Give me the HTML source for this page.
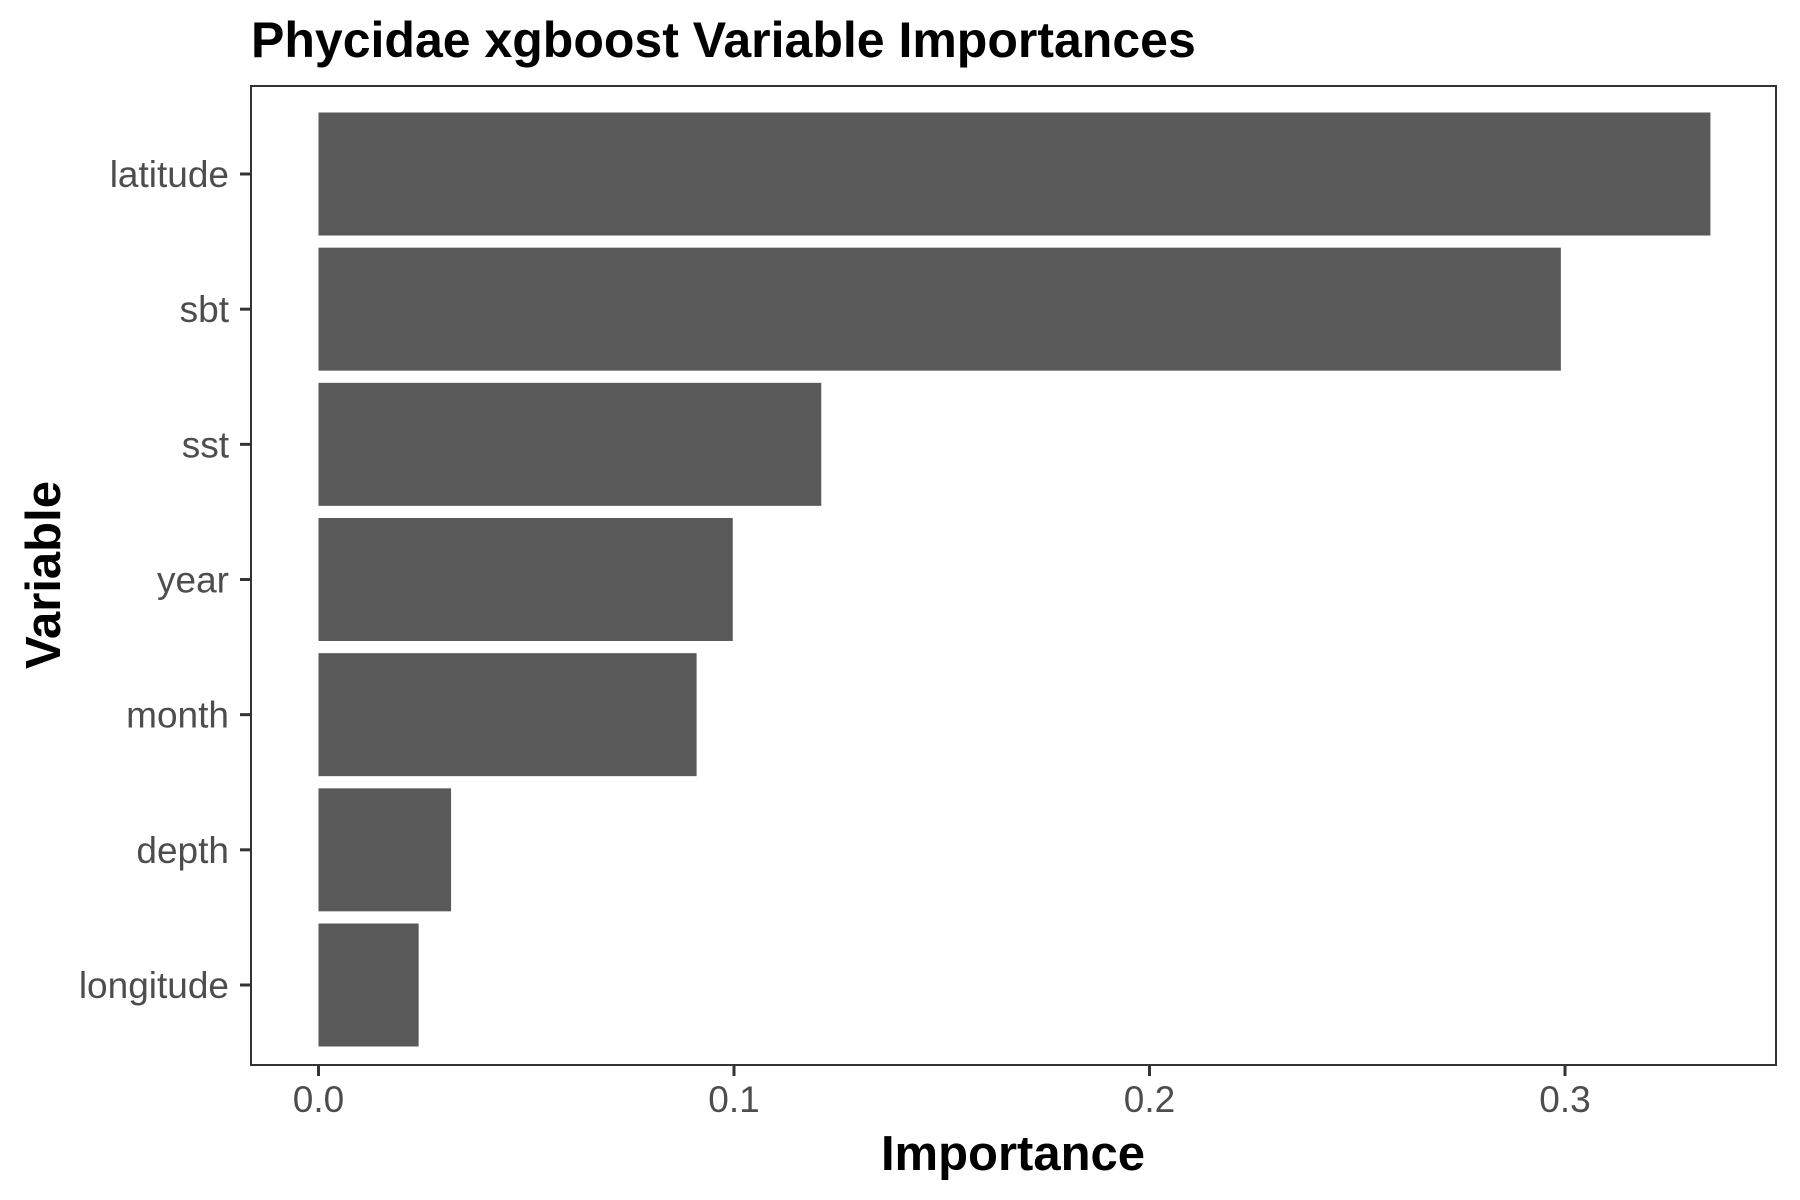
<!DOCTYPE html>
<html><head><meta charset="utf-8"><style>
html,body{margin:0;padding:0;background:#fff;}
svg{display:block;font-family:"Liberation Sans",Arial,sans-serif;}
</style></head><body>
<svg id="chart" width="1800" height="1200" viewBox="0 0 1800 1200">
<rect width="1800" height="1200" fill="#fff"/>
<text x="251" y="57" font-size="50" font-weight="bold" fill="#000">Phycidae xgboost Variable Importances</text>
<g id="bars"></g>
<rect x="251" y="86" width="1525" height="979" fill="none" stroke="#333" stroke-width="2"/>
<g id="yaxis"></g>
<g id="xaxis"></g>
<text x="1013" y="1170" font-size="49" font-weight="bold" text-anchor="middle" fill="#000">Importance</text>
<text transform="translate(60,575) rotate(-90)" font-size="49" font-weight="bold" text-anchor="middle" fill="#000">Variable</text>
</svg>
<script>
const categories = ["latitude","sbt","sst","year","month","depth","longitude"];
const importance = [0.335,0.299,0.121,0.0997,0.091,0.0319,0.0241];
const xTicks = [0,0.1,0.2,0.3];
const xTickLabels = ["0.0","0.1","0.2","0.3"];

const NS="http://www.w3.org/2000/svg";
const x0=318.5, pxPerUnit=4155;
function xScale(v){return x0+v*pxPerUnit;}
function yScale(i){return 174+i*(985-174)/(categories.length-1);}
const bandH=0.91*(985-174)/(categories.length-1);
function mk(tag,attrs,parent){const e=document.createElementNS(NS,tag);for(const k in attrs)e.setAttribute(k,attrs[k]);parent.appendChild(e);return e;}
const bars=document.getElementById('bars'),ya=document.getElementById('yaxis'),xa=document.getElementById('xaxis');
categories.forEach((c,i)=>{
  const cy=yScale(i);
  const r=mk('rect',{x:xScale(0),y:cy-bandH/2,width:xScale(importance[i])-xScale(0),height:bandH,fill:'#595959'},bars);
  
  
  const t=mk('line',{x1:240,x2:251,y1:cy,y2:cy,stroke:'#333','stroke-width':3},ya);
  
  
  const l=mk('text',{x:229,y:cy+13,'font-size':37,'text-anchor':'end',fill:'#4d4d4d'},ya);
  l.textContent=c;
  
  
});
xTicks.forEach((v,i)=>{
  const x=xScale(v);
  const t=mk('line',{x1:x,x2:x,y1:1065,y2:1076,stroke:'#333','stroke-width':3},xa);
  
  
  const l=mk('text',{x:x,y:1112,'font-size':37,'text-anchor':'middle',fill:'#4d4d4d'},xa);
  l.textContent=xTickLabels[i];
  
  
});
</script>
</body></html>
